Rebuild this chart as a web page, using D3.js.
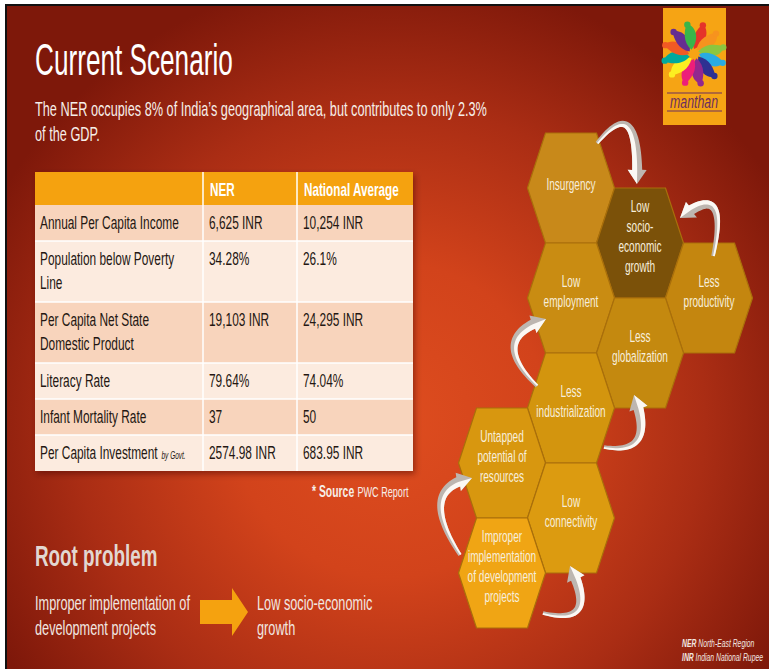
<!DOCTYPE html>
<html>
<head>
<meta charset="utf-8">
<script src="https://cdn.jsdelivr.net/npm/d3@7"></script>
<style>
  html, body { margin: 0; padding: 0; background: #fff; }
  svg { display: block; }
</style>
</head>
<body>
<div id="slide"></div>
<script>
// table data
const tableHeader = ["", "NER", "National Average"];
const rowLabels = [
  ["Annual Per Capita Income"],
  ["Population below Poverty", "Line"],
  ["Per Capita Net State", "Domestic Product"],
  ["Literacy Rate"],
  ["Infant Mortality Rate"],
  ["Per Capita Investment"]
];
const nerValues = ["6,625 INR", "34.28%", "19,103 INR", "79.64%", "37", "2574.98 INR"];
const natValues = ["10,254 INR", "26.1%", "24,295 INR", "74.04%", "50", "683.95 INR"];

// honeycomb: label lines + grid column / half-row
const hexLabels = [
  ["Insurgency"],
  ["Low", "socio-", "economic", "growth"],
  ["Less", "productivity"],
  ["Low", "employment"],
  ["Less", "globalization"],
  ["Less", "industrialization"],
  ["Untapped", "potential of", "resources"],
  ["Low", "connectivity"],
  ["Improper", "implementation", "of development", "projects"]
];
const hexCol = [1, 2, 3, 1, 2, 1, 0, 1, 0];
const hexRow = [0, 1, 2, 2, 3, 4, 5, 6, 7];
const hexFill = ["#c8891a", "#7b5109", "#c4860f", "#c98c12", "#c4890f", "#d3950e", "#d8970f", "#dc9b10", "#f0a514"];

// cycle arrows between hexes (from, to)
const arrowFrom = [0, 2, 5, 5, 8, 8];
const arrowTo   = [1, 1, 3, 4, 6, 7];

const W = 769, H = 669;
const SX = 0.65;
const FONT = '"Liberation Sans", Arial, sans-serif';

const svg = d3.select('#slide').append('svg').attr('width', W).attr('height', H);
const defs = svg.append('defs');

const bg = defs.append('radialGradient').attr('id', 'bg')
  .attr('gradientUnits', 'userSpaceOnUse')
  .attr('cx', 390).attr('cy', 420).attr('r', 450);
[[0, '#de4d1f'], [0.35, '#d2431b'], [0.7, '#aa2d14'], [1, '#7e180a']]
  .forEach(([o, c]) => bg.append('stop').attr('offset', o).attr('stop-color', c));

const sh = defs.append('filter').attr('id', 'shadow').attr('x', '-5%').attr('y', '-5%').attr('width', '115%').attr('height', '115%');
sh.append('feDropShadow').attr('dx', 2).attr('dy', 3).attr('stdDeviation', 3).attr('flood-color', '#3a0800').attr('flood-opacity', 0.45);

// frame + background
svg.append('rect').attr('x', 5).attr('y', 4).attr('width', W).attr('height', H).attr('fill', '#111');
svg.append('rect').attr('x', 7).attr('y', 6).attr('width', W).attr('height', H).attr('fill', 'url(#bg)');

// condensed text helper
function ctext(sel, x, y, size, opt = {}) {
  return sel.append('text')
    .attr('transform', `translate(${x},${y}) scale(${opt.sx || SX},1)`)
    .attr('font-family', FONT)
    .attr('font-size', size)
    .attr('font-weight', opt.weight || 'normal')
    .attr('font-style', opt.style || 'normal')
    .attr('text-anchor', opt.anchor || 'start')
    .attr('fill', opt.fill || '#fff');
}

// title
ctext(svg, 35, 75, 44, {sx: 0.595}).text('Current Scenario');
ctext(svg, 35, 116, 19.6, {fill: '#f6eee8'}).text('The NER occupies 8% of India\u2019s geographical area, but contributes to only 2.3%');
ctext(svg, 35, 141, 19.6, {fill: '#f6eee8'}).text('of the GDP.');

// ---- table
const tx = 35, ty = 172, headH = 33;
const colX = [tx, 203, 297, 413];
const rowH = rowLabels.map(l => l.length > 1 ? 61 : 36);
const rowY = d3.cumsum([ty + headH].concat(rowH));
const tbl = svg.append('g');
tbl.append('rect').attr('x', tx).attr('y', ty).attr('width', colX[3] - tx)
  .attr('height', rowY[rowY.length - 1] - ty).attr('fill', '#f8d6bf').attr('filter', 'url(#shadow)');
tbl.append('rect').attr('x', tx).attr('y', ty).attr('width', colX[3] - tx).attr('height', headH).attr('fill', '#f5a20f');
tableHeader.forEach((h, i) => {
  if (h) ctext(tbl, colX[i] + 7, ty + 24, 18, {weight: 'bold'}).text(h);
});
rowLabels.forEach((lab, i) => {
  const y0 = rowY[i];
  tbl.append('rect').attr('x', tx).attr('y', y0).attr('width', colX[3] - tx).attr('height', rowH[i])
    .attr('fill', i % 2 === 0 ? '#f8d4bc' : '#fcebdf');
  lab.forEach((line, k) => {
    const t = ctext(tbl, colX[0] + 5, y0 + 24 + k * 24, 18.3, {fill: '#241712'});
    t.append('tspan').text(line);
    if (i === rowLabels.length - 1) t.append('tspan').attr('dx', 6).attr('font-size', 10).attr('font-style', 'italic').text('by Govt.');
  });
  ctext(tbl, colX[1] + 6, y0 + 24, 18.3, {fill: '#241712'}).text(nerValues[i]);
  ctext(tbl, colX[2] + 6, y0 + 24, 18.3, {fill: '#241712'}).text(natValues[i]);
});
// separators
rowY.slice(1, -1).forEach(y => tbl.append('line').attr('x1', tx).attr('x2', colX[3]).attr('y1', y).attr('y2', y)
  .attr('stroke', '#fff').attr('stroke-width', 1.5));
[colX[1], colX[2]].forEach(x => tbl.append('line').attr('x1', x).attr('x2', x).attr('y1', ty).attr('y2', rowY[rowY.length - 1])
  .attr('stroke', '#fff').attr('stroke-width', 1.5));

const src = ctext(svg, 312, 497, 16, {fill: '#f6eee8'});
src.append('tspan').attr('font-weight', 'bold').text('* Source');
src.append('tspan').attr('dx', 5).attr('font-size', 14).text('PWC Report');

// ---- root problem
ctext(svg, 35, 566, 29, {weight: 'bold', fill: '#e2d7d1'}).text('Root problem');
ctext(svg, 35, 610, 19.6, {fill: '#f1e7e1'}).text('Improper implementation of');
ctext(svg, 35, 635, 19.6, {fill: '#f1e7e1'}).text('development projects');
ctext(svg, 257, 610, 19.6, {fill: '#f1e7e1'}).text('Low socio-economic');
ctext(svg, 257, 635, 19.6, {fill: '#f1e7e1'}).text('growth');
svg.append('path')
  .attr('d', d3.line()([[200, 600], [232, 600], [232, 588], [248, 612], [232, 636], [232, 624], [200, 624]]) + 'Z')
  .attr('fill', '#f5a20f');

// ---- honeycomb
const hw = 87, hh = 110, slant = 18;
const xHex = d3.scaleLinear().domain([0, 1]).range([502, 502 + hw - slant]);
const yHex = d3.scaleLinear().domain([0, 1]).range([188, 188 + hh / 2]);
const hexPath = (cx, cy) => d3.line()([
  [cx - hw / 2, cy], [cx - hw / 2 + slant, cy - hh / 2], [cx + hw / 2 - slant, cy - hh / 2],
  [cx + hw / 2, cy], [cx + hw / 2 - slant, cy + hh / 2], [cx - hw / 2 + slant, cy + hh / 2]
]) + 'Z';
const hexG = svg.append('g');
hexLabels.forEach((lines, i) => {
  const cx = xHex(hexCol[i]), cy = yHex(hexRow[i]);
  hexG.append('path').attr('d', hexPath(cx, cy)).attr('fill', hexFill[i])
    .attr('stroke', '#a96f0b').attr('stroke-width', 1.2);
  const lh = 20, y0 = cy - (lines.length - 1) * lh / 2 + 2 - (lines.length > 1 ? 3 : 0);
  lines.forEach((ln, k) => ctext(hexG, cx, y0 + k * lh, 16.5, {anchor: 'middle', fill: '#f7eedc', sx: 0.61}).text(ln));
});

// curved arrows: start/end offsets from hex centres, control offset from start hex
const arrowStart = [[26, -45], [4, -42], [-34, -22], [33, 39], [-42, -18], [41, 40]];
const arrowEnd   = [[-3, -59], [40, -25], [-25, 21], [-6, 42], [-30, 15], [-1, 48]];
const arrowCtrl  = [[69, -98], [21, -120], [-84, -70], [86, 48], [-86, -85], [98, 54]];

function arrowShape(p0, c, p2, w, hl, hwid) {
  const B = t => [
    (1 - t) * (1 - t) * p0[0] + 2 * (1 - t) * t * c[0] + t * t * p2[0],
    (1 - t) * (1 - t) * p0[1] + 2 * (1 - t) * t * c[1] + t * t * p2[1]
  ];
  let tEnd = 1;
  while (tEnd > 0 && Math.hypot(B(tEnd)[0] - p2[0], B(tEnd)[1] - p2[1]) < hl) tEnd -= 0.005;
  const n = 30, left = [], right = [], mid = [];
  for (let k = 0; k <= n; k++) {
    const t = tEnd * k / n;
    const p = B(t);
    const d = [2 * (1 - t) * (c[0] - p0[0]) + 2 * t * (p2[0] - c[0]), 2 * (1 - t) * (c[1] - p0[1]) + 2 * t * (p2[1] - c[1])];
    const L = Math.hypot(d[0], d[1]);
    const nn = [-d[1] / L, d[0] / L];
    const ww = w * (0.35 + 0.65 * k / n) / 2;
    left.push([p[0] + nn[0] * ww, p[1] + nn[1] * ww]);
    right.push([p[0] - nn[0] * ww, p[1] - nn[1] * ww]);
    mid.push(p);
  }
  const E = B(tEnd);
  const dd = [p2[0] - E[0], p2[1] - E[1]], DL = Math.hypot(dd[0], dd[1]);
  const hn = [-dd[1] / DL, dd[0] / DL];
  const hL = [E[0] + hn[0] * hwid / 2, E[1] + hn[1] * hwid / 2];
  const hR = [E[0] - hn[0] * hwid / 2, E[1] - hn[1] * hwid / 2];
  return {
    full: left.concat([hL, p2, hR], right.reverse()),
    light: left.concat([hL, p2, E], mid.slice().reverse())
  };
}
const arrG = svg.append('g');
arrowFrom.forEach((f, i) => {
  const fc = [xHex(hexCol[f]), yHex(hexRow[f])];
  const tc = [xHex(hexCol[arrowTo[i]]), yHex(hexRow[arrowTo[i]])];
  const p0 = [fc[0] + arrowStart[i][0], fc[1] + arrowStart[i][1]];
  const p2 = [tc[0] + arrowEnd[i][0], tc[1] + arrowEnd[i][1]];
  const c = [fc[0] + arrowCtrl[i][0], fc[1] + arrowCtrl[i][1]];
  const s = arrowShape(p0, c, p2, 10, 14, 19);
  arrG.append('path').attr('d', d3.line()(s.full) + 'Z').attr('fill', '#bdb6b0');
  arrG.append('path').attr('d', d3.line()(s.light) + 'Z').attr('fill', '#fbf8f4');
});

// ---- logo
const logo = svg.append('g');
logo.append('rect').attr('x', 663).attr('y', 8).attr('width', 63).attr('height', 117).attr('fill', '#f6a414');
const petalColors = ['#e5332a', '#f7931e', '#8cc63f', '#29abe2', '#2e3192', '#92278f', '#ed1e79', '#fcee21', '#00a99d', '#f15a24', '#662d91', '#39b54a'];
const lc = [694, 54];
petalColors.forEach((col, i) => {
  const a = i / petalColors.length * 2 * Math.PI;
  logo.append('path')
    .attr('d', 'M0,-5 C12,-10 16,-22 9,-30 C3,-25 -4,-16 0,-5Z')
    .attr('transform', `translate(${lc[0]},${lc[1]}) rotate(${a * 180 / Math.PI})`)
    .attr('fill', col);
  logo.append('circle')
    .attr('cx', lc[0] + Math.sin(a + 0.3) * 30).attr('cy', lc[1] - Math.cos(a + 0.3) * 30)
    .attr('r', 3.2).attr('fill', col);
});
logo.append('line').attr('x1', 667).attr('x2', 722).attr('y1', 93).attr('y2', 93).attr('stroke', '#6b2f5f').attr('stroke-width', 1);
ctext(logo, 694, 108, 19, {anchor: 'middle', fill: '#6b2f5f', style: 'italic'}).text('manthan');
logo.append('line').attr('x1', 667).attr('x2', 722).attr('y1', 111).attr('y2', 111).attr('stroke', '#6b2f5f').attr('stroke-width', 1);

// ---- footnote
const f1 = ctext(svg, 682, 647, 11, {style: 'italic', fill: '#f1e7e1', sx: 0.62});
f1.append('tspan').attr('font-weight', 'bold').text('NER');
f1.append('tspan').attr('dx', 3).text('North-East Region');
const f2 = ctext(svg, 682, 661, 11, {style: 'italic', fill: '#f1e7e1', sx: 0.62});
f2.append('tspan').attr('font-weight', 'bold').text('INR');
f2.append('tspan').attr('dx', 3).text('Indian National Rupee');
</script>
</body>
</html>
